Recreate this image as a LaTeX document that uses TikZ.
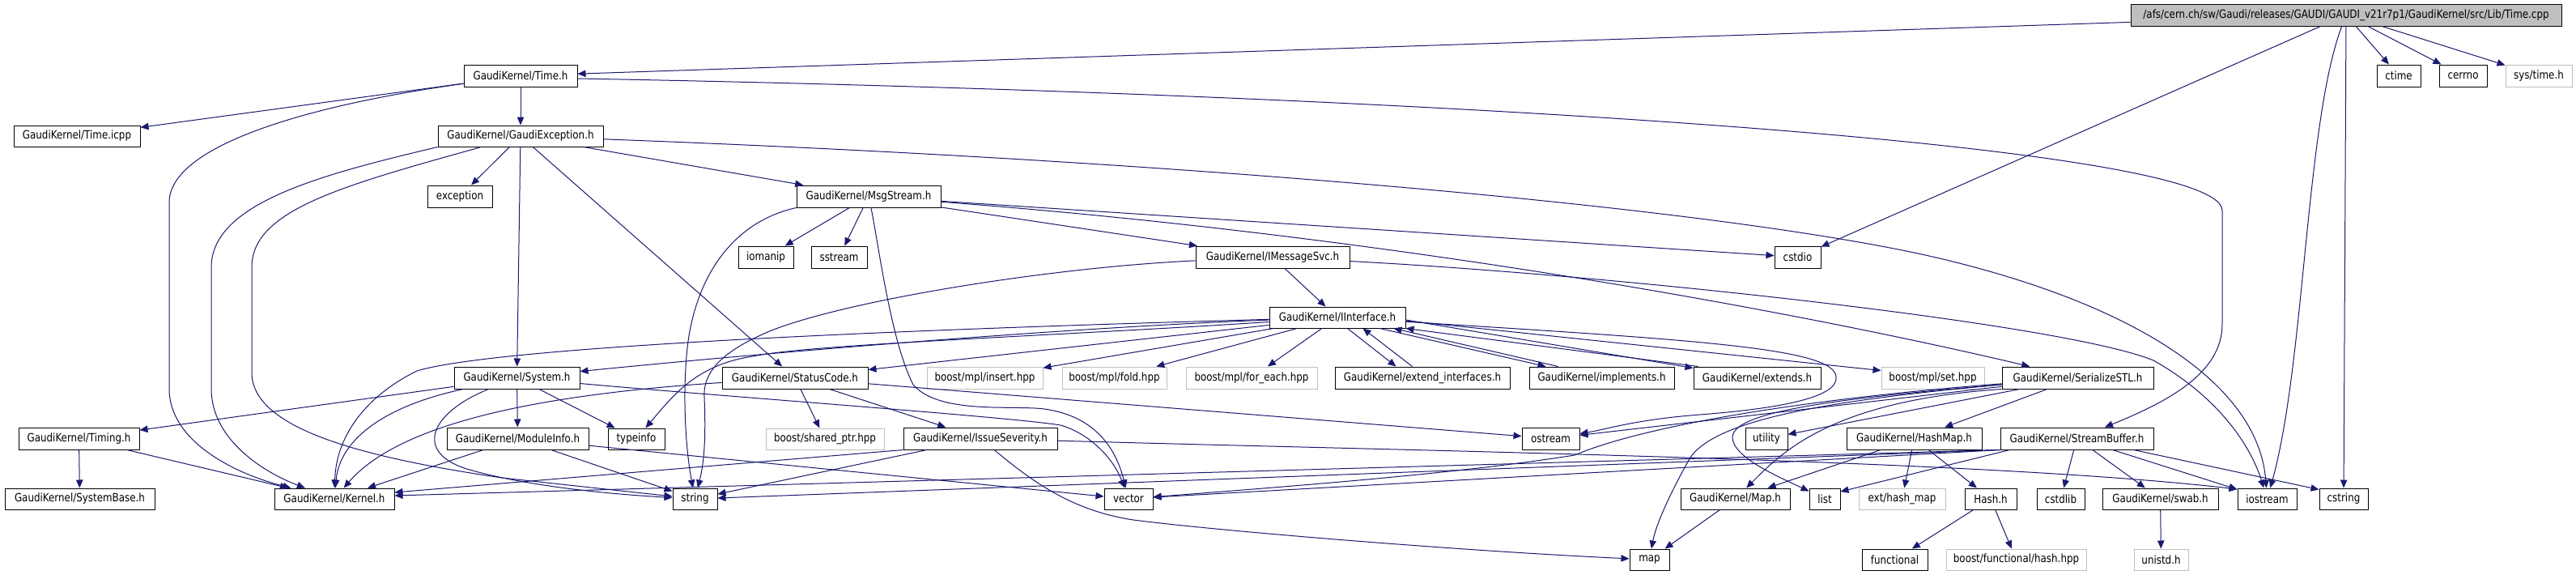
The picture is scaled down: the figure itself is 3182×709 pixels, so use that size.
\documentclass[tikz,border=0pt]{standalone}
\usepackage{fontspec}
\setmainfont{DejaVu Sans}[FakeStretch=0.85]
\usetikzlibrary{arrows.meta,calc}
\definecolor{edgec}{HTML}{191970}
\definecolor{grayb}{HTML}{BFBFBF}
\newcommand{\mkbox}[7]{%
 \pgfmathsetmacro{\mkw}{(#5-#3)*0.5}%
 \pgfmathsetmacro{\mkh}{(#6-#4)*0.5}%
 \pgfmathsetmacro{\mkx}{(#3+#5)/2}%
 \pgfmathsetmacro{\mky}{(#4+#6)/2}%
 \node[#1, minimum width=\mkw pt, minimum height=\mkh pt] (#2) at (\mkx,\mky) {#7};}
\begin{document}
\begin{tikzpicture}[x=0.5pt,y=-0.5pt,
  nb/.style={draw=black, line width=0.5pt, rectangle, inner sep=0pt, font=\fontsize{7pt}{8pt}\selectfont, text=black},
  ng/.style={nb, draw=grayb},
  nm/.style={nb, fill=grayb},
  e/.style={draw=edgec, line width=0.5pt, -{Triangle[length=5pt,width=4.2pt]}}]
\fill[white] (0,0) rectangle (3182,709);
\useasboundingbox (0,0) rectangle (3182,709);
% nodes
\mkbox{nm}{main}{2632}{5}{3164}{32}{/afs/cern.ch/sw/Gaudi/releases/GAUDI/GAUDI\_v21r7p1/GaudiKernel/src/Lib/Time.cpp}
\mkbox{nb}{timeh}{573}{80}{713}{107}{GaudiKernel/Time.h}
\mkbox{nb}{ctime}{2936}{80}{2990}{107}{ctime}
\mkbox{nb}{cerrno}{3013}{80}{3072}{107}{cerrno}
\mkbox{ng}{systime}{3095}{80}{3177}{107}{sys/time.h}
\mkbox{nb}{icpp}{17}{155}{173}{181}{GaudiKernel/Time.icpp}
\mkbox{nb}{gexc}{541}{155}{745}{181}{GaudiKernel/GaudiException.h}
\mkbox{nb}{exception}{528}{229}{608}{256}{exception}
\mkbox{nb}{msgs}{984}{229}{1162}{256}{GaudiKernel/MsgStream.h}
\mkbox{nb}{iomanip}{912}{304}{980}{331}{iomanip}
\mkbox{nb}{sstream}{1002}{304}{1071}{331}{sstream}
\mkbox{nb}{imsg}{1477}{304}{1667}{331}{GaudiKernel/IMessageSvc.h}
\mkbox{nb}{cstdio}{2192}{304}{2249}{331}{cstdio}
\mkbox{nb}{iint}{1568}{379}{1736}{405}{GaudiKernel/IInterface.h}
\mkbox{nb}{system}{561}{453}{716}{480}{GaudiKernel/System.h}
\mkbox{nb}{status}{892}{453}{1072}{480}{GaudiKernel/StatusCode.h}
\mkbox{ng}{insert}{1145}{453}{1288}{480}{boost/mpl/insert.hpp}
\mkbox{ng}{fold}{1312}{453}{1441}{480}{boost/mpl/fold.hpp}
\mkbox{ng}{foreach}{1465}{453}{1627}{480}{boost/mpl/for\_each.hpp}
\mkbox{nb}{extif}{1649}{453}{1865}{480}{GaudiKernel/extend\_interfaces.h}
\mkbox{nb}{impl}{1889}{453}{2068}{480}{GaudiKernel/implements.h}
\mkbox{nb}{extends}{2092}{453}{2249}{480}{GaudiKernel/extends.h}
\mkbox{ng}{set}{2324}{453}{2451}{480}{boost/mpl/set.hpp}
\mkbox{nb}{serial}{2473}{453}{2660}{480}{GaudiKernel/SerializeSTL.h}
\mkbox{nb}{timing}{23}{528}{172}{555}{GaudiKernel/Timing.h}
\mkbox{nb}{modinfo}{552}{528}{727}{555}{GaudiKernel/ModuleInfo.h}
\mkbox{nb}{typeinfo}{751}{529}{821}{555}{typeinfo}
\mkbox{ng}{sharedptr}{946}{529}{1092}{555}{boost/shared\_ptr.hpp}
\mkbox{nb}{issue}{1116}{528}{1306}{555}{GaudiKernel/IssueSeverity.h}
\mkbox{nb}{ostream}{1880}{528}{1951}{555}{ostream}
\mkbox{nb}{utility}{2156}{528}{2208}{555}{utility}
\mkbox{nb}{hashmap}{2281}{528}{2448}{555}{GaudiKernel/HashMap.h}
\mkbox{nb}{streambuf}{2471}{528}{2660}{555}{GaudiKernel/StreamBuffer.h}
\mkbox{nb}{systembase}{6}{603}{191}{629}{GaudiKernel/SystemBase.h}
\mkbox{nb}{kernel}{339}{603}{487}{629}{GaudiKernel/Kernel.h}
\mkbox{nb}{string}{831}{603}{886}{629}{string}
\mkbox{nb}{vector}{1364}{603}{1424}{629}{vector}
\mkbox{nb}{mapH}{2076}{603}{2211}{629}{GaudiKernel/Map.h}
\mkbox{nb}{list}{2235}{603}{2273}{629}{list}
\mkbox{ng}{hashmapext}{2296}{603}{2403}{629}{ext/hash\_map}
\mkbox{nb}{hash}{2427}{603}{2491}{629}{Hash.h}
\mkbox{nb}{cstdlib}{2516}{603}{2575}{629}{cstdlib}
\mkbox{nb}{swab}{2597}{603}{2740}{629}{GaudiKernel/swab.h}
\mkbox{nb}{iostream}{2764}{603}{2837}{629}{iostream}
\mkbox{nb}{cstring}{2865}{603}{2925}{629}{cstring}
\mkbox{nb}{map}{2013}{678}{2062}{704}{map}
\mkbox{nb}{functional}{2300}{678}{2381}{704}{functional}
\mkbox{ng}{boosthash}{2404}{678}{2577}{704}{boost/functional/hash.hpp}
\mkbox{ng}{unistd}{2636}{678}{2703}{704}{unistd.h}
% edges: main
\draw[e] (main) -- (timeh);
\draw[e] (main) -- (ctime);
\draw[e] (main) -- (cerrno);
\draw[e] (main) -- (systime);
\draw[e] (main) -- (cstdio);
\draw[e] (main) .. controls (2848,150) and (2847,450) .. (iostream);
\draw[e] (main) -- (cstring);
% Time.h
\draw[e] (timeh) -- (icpp);
\draw[e] (timeh) -- (gexc);
\draw[e] (timeh) .. controls (380,130) and (209,180) .. (209,250) -- (209,480) .. controls (209,545) and (290,585) .. (kernel);
\draw[e] ([yshift=-1.75pt]timeh.east) .. controls (1700,115) and (2745,175) .. (2745,260) -- (2745,400) .. controls (2745,460) and (2680,495) .. (streambuf);
% GaudiException.h
\draw[e] (gexc) -- (exception);
\draw[e] (gexc) -- (system);
\draw[e] (gexc) -- (status);
\draw[e] (gexc) -- (msgs);
\draw[e] (gexc.south west) .. controls (400,215) and (261,250) .. (261,330) -- (261,480) .. controls (261,545) and (330,585) .. (kernel);
\draw[e] (gexc) .. controls (420,230) and (311,260) .. (311,330) -- (311,460) .. controls (311,530) and (450,565) .. (620,590) -- (string);
\draw[e] (gexc) .. controls (1500,200) and (2150,260) .. (2400,320) .. controls (2650,380) and (2790,480) .. (iostream);
% MsgStream.h
\draw[e] (msgs) -- (iomanip);
\draw[e] (msgs) -- (sstream);
\draw[e] (msgs.south west) .. controls (900,275) and (855,350) .. (848,440) .. controls (843,500) and (848,560) .. (string);
\draw[e] (msgs) .. controls (1085,300) and (1100,420) .. (1128,475) .. controls (1160,512) and (1250,500) .. (1290,505) .. controls (1340,512) and (1375,540) .. (vector);
\draw[e] (msgs) -- (imsg);
\draw[e] (msgs) -- (cstdio);
\draw[e] (msgs) .. controls (1700,290) and (2200,380) .. (serial);
% IMessageSvc.h
\draw[e] (imsg) -- (iint);
\draw[e] (imsg) .. controls (2000,340) and (2550,400) .. (2660,445) .. controls (2740,490) and (2780,550) .. (iostream);
\draw[e] (imsg) .. controls (1300,330) and (1050,370) .. (953,408) .. controls (900,430) and (868,455) .. (870,490) .. controls (872,540) and (870,570) .. (string);
% IInterface.h
\draw[e] (iint) .. controls (1300,405) and (900,440) .. (system);
\draw[e] (iint) .. controls (1000,410) and (600,432) .. (515,458) .. controls (450,490) and (415,540) .. (kernel);
\draw[e] (iint) -- (status);
\draw[e] (iint) .. controls (1300,415) and (1000,425) .. (930,440) .. controls (860,450) and (830,490) .. (typeinfo);
\draw[e] (iint) .. controls (2100,420) and (2265,430) .. (2268,465) .. controls (2272,492) and (2190,505) .. (2100,512) .. controls (2020,518) and (1985,530) .. (ostream);
\draw[e] (iint) -- (insert);
\draw[e] (iint) -- (fold);
\draw[e] (iint) -- (foreach);
\draw[e] ([xshift=48.5pt]iint.south west) -- ([xshift=38pt]extif.north west);
\draw[e] ([xshift=48pt]extif.north west) -- ([xshift=58pt]iint.south west);
\draw[e] ([xshift=68.5pt]iint.south west) -- ([xshift=10.5pt]impl.north west);
\draw[e] ([xshift=18pt]impl.north west) -- ([xshift=77pt]iint.south west);
\draw[e] ([yshift=-1.5pt]iint.east) -- ([yshift=6pt]extends.west);
\draw[e] ([xshift=3pt]extends.north west) -- (iint.south east);
\draw[e] ([yshift=-2pt]iint.east) -- ([yshift=4.5pt]set.west);
% System.h
\draw[e] (system) -- (timing);
\draw[e] (system) .. controls (480,500) and (420,540) .. (kernel);
\draw[e] (system) .. controls (530,510) and (510,560) .. (580,580) .. controls (650,600) and (750,610) .. (string);
\draw[e] (system) -- (modinfo);
\draw[e] (system) -- (typeinfo);
\draw[e] (system) .. controls (900,490) and (1250,515) .. (1310,525) .. controls (1345,535) and (1375,565) .. (vector);
% ModuleInfo.h, Timing.h
\draw[e] (modinfo) -- (kernel);
\draw[e] (modinfo) -- (string);
\draw[e] (modinfo) -- (vector);
\draw[e] (timing) -- (systembase);
\draw[e] (timing) -- (kernel);
% StatusCode.h
\draw[e] (status) .. controls (700,485) and (500,515) .. (kernel);
\draw[e] (status) -- (sharedptr);
\draw[e] (status) -- (issue);
\draw[e] (status) -- (ostream);
% IssueSeverity.h
\draw[e] (issue.south west) -- ([yshift=4pt]kernel.east);
\draw[e] (issue) -- (string);
\draw[e] (issue) .. controls (1270,590) and (1320,630) .. (1400,642) .. controls (1500,655) and (1800,680) .. (map);
\draw[e] (issue) .. controls (1800,558) and (2450,568) .. ([yshift=6pt]iostream.west);
% SerializeSTL.h
\draw[e] (serial) -- (ostream);
\draw[e] (serial) -- (utility);
\draw[e] (serial.south west) .. controls (2260,495) and (2200,560) .. (mapH);
\draw[e] (serial) -- (hashmap);
\draw[e] (serial) .. controls (2300,490) and (2140,505) .. (2140,540) .. controls (2140,565) and (2200,590) .. (list);
\draw[e] (serial) .. controls (2250,495) and (2110,520) .. (2085,570) .. controls (2060,615) and (2045,650) .. (map);
\draw[e] (serial) .. controls (2200,495) and (2020,530) .. (1945,562) .. controls (1800,585) and (1600,600) .. (vector);
% HashMap.h, Hash.h, Map.h
\draw[e] (hashmap) -- (mapH);
\draw[e] (hashmap) -- (hashmapext);
\draw[e] (hashmap) -- (hash);
\draw[e] (hash) -- (functional);
\draw[e] (hash) -- (boosthash);
\draw[e] (mapH) -- (map);
% StreamBuffer.h
\draw[e] (streambuf.south west) -- ([yshift=2pt]kernel.east);
\draw[e] (streambuf.south west) -- ([yshift=0.5pt]string.east);
\draw[e] (streambuf.south west) -- ([yshift=1pt]vector.east);
\draw[e] ([xshift=6pt]streambuf.south west) -- ([yshift=4.5pt]list.east);
\draw[e] (streambuf) -- (cstdlib);
\draw[e] (streambuf) -- (swab);
\draw[e] (streambuf) -- (iostream);
\draw[e] ([xshift=35pt]streambuf.south) -- ([yshift=-1pt]cstring.north west);
\draw[e] (swab) -- (unistd);
\end{tikzpicture}
\end{document}
